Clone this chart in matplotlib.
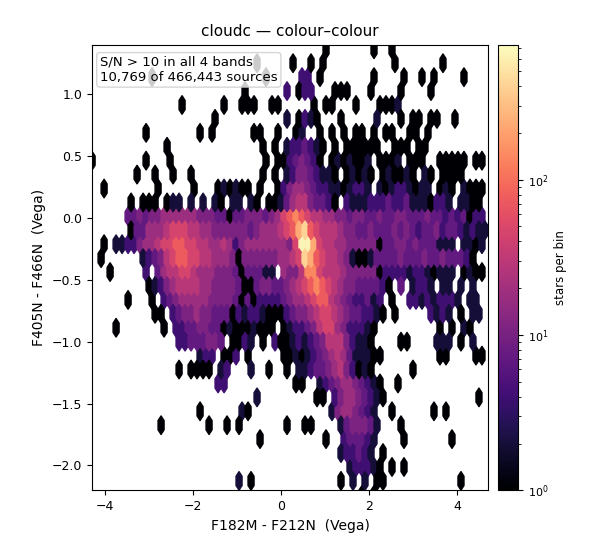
import numpy as np
import matplotlib
matplotlib.use("Agg")
import matplotlib.pyplot as plt
from matplotlib.colors import LogNorm

# hexbin lattice used by the original plot
XMIN, XMAX, YMIN, YMAX = -4.3, 4.7, -2.237, 1.363
NX, NY = 66, 16

# count per level code
level_counts = {"1": 1, "2": 2, "3": 4, "4": 7, "5": 11, "6": 18, "7": 28,
                "8": 45, "9": 75, "a": 140, "b": 230, "c": 400, "d": 650}

# hex rows, top (row 32) to bottom (row 0); one char per hex column
density_rows = [
    "..... ..... ..... ..... ..... ..... ..... ....1 ..... ..1.. 1.... ..... ..... .",
    "..... ..... ..... ..... ..... ..1.. ...1. .1.1. ..... ..... 1.... ...1. ..... .",
    "..... ..... 1.... ..... ..... ....1 ..... 33.1. ..... ..1.. ..1.. 1.1.. ..1.. .",
    "..... ..... ..... ..... ..... 1.... ..3.1 33... 111.. .1... .1... .1... ..... .",
    "..... ..... ..... 1.... ..1.. 111.. 11... ..1.1 1...1 ...11 12... ..... ..... .",
    "..... ..... ..... ..... 1.... ..... ..2.1 321.. .1... ..2.. .1.11 .11.. 1.... .",
    "..... ....1 ..... ...1. 1.... ..11. .1..1 2..1. 1.1.1 1.1.1 1..11 .1... ..... .",
    "..... ..... ..1.. ..... ..... ...1. 1.233 4321. 1.111 111.. 111.1 1.... ..... .",
    "1.... ....1 ...1. ..... ..... ....1 .1134 5431. 12121 12.11 12.11 1..11 111.1 1",
    "..... ..1.. 1..1. .1... ..... ...1. 1.235 54322 1.121 21.12 1121. 21.11 11... .",
    "..1.. ..... .1... ..1.. .1212 11.1. .1356 65433 22123 32.21 23321 22.12 1.211 1",
    "..... .1.11 1.122 .2.2. 21.22 .21.1 12467 75443 1.322 23334 33422 21332 .2211 .",
    "..... .4454 55666 66655 54414 45554 5689a 98776 65545 54454 45544 45443 43413 3",
    "..... .1446 66788 87766 55555 54566 6789b c9877 76554 45444 54543 44534 43232 2",
    "..1.2 23356 67889 98877 66763 56666 66658 ddb87 76655 55514 45545 44422 2.221 2",
    ".1... ...23 45789 98877 66651 55555 56678 cb987 76521 12444 45444 54454 4431. .",
    "...1. ....3 .4677 88766 65554 14442 2.655 7aa87 77655 55513 33323 32122 2.121 1",
    "..... ....1 23567 77766 55554 11455 44567 89a98 76554 44431 .4.23 32.22 .2.2. .",
    "..... .1... 1.345 66666 55554 14133 33456 67899 76543 3423. 1..33 23233 32.22 .",
    "..... ..... 11.34 55655 44413 23321 11345 56788 76544 3321. 1.... .3232 .1.22 .",
    "....1 ..... ..1.3 34455 44121 11211 1.123 34578 86533 321.. ..... ...1. 1.21. .",
    "..... ..... ....3 34445 54.11 32.1. 31123 23457 77532 21... .11.. ..222 .1.2. .",
    "..... ..... ..... ...23 3.113 .1... ..112 12345 67642 2211. ..... ...11 ....1 1",
    "..... ..... ....1 .1111 .23.. .2..1 ..1.2 23445 67531 21... ...1. ..... ..... .",
    "..... ..... ..... ..... .33.. ..... ....1 1..23 45665 4321. .1... ..... ..... .",
    "..... ..... ..... ..... ..... ..2.. ..... ..11. 35665 4321. ..... ..... ....1 .",
    "..... ..... ..... ...1. ..... 21... ..... ..... 25665 432.. 1.... ..1.1 ..... .",
    "..... ..... .1... ....1 ..1.1 ..... ..1.. 11... .2455 542.. .1... ..... ..... .",
    "..... ..... ..... ..... ..... ...1. ..... ....1 ..344 432.. ..1.. ..... 1.... .",
    "..... ..... ..... ..... ..... ..... ..... ..... .2334 32.1. ..... ..... ..... .",
    "..... ..... ..... ..... ..... ..... ..... ..... ...23 3321. 1.1.. ..... ..... .",
    "..... ..... ..... ..... ....2 .1... ..... ..... .1.2. 2.11. ..... ..... .1... .",
    "..... ..... ..... ..... ..... ..... ..... ..... ..... 1.1.. ..... ..... ..... .",
]

n_total = 466443
n_good = 10769

sx = (XMAX - XMIN) / NX
sy = (YMAX - YMIN) / NY
xs, ys, cs = [], [], []
n_rows = len(density_rows)
for r, row in enumerate(density_rows):
    k = n_rows - 1 - r
    cells = row.replace(" ", "")
    for i, ch in enumerate(cells):
        if ch == ".":
            continue
        xs.append(XMIN + (i + 0.5 * (k % 2)) * sx)
        ys.append(YMIN + k * sy / 2)
        cs.append(level_counts[ch])

fig = plt.figure(figsize=(5.98, 5.59), dpi=100)
ax = fig.add_axes([0.154, 0.123, 0.662, 0.797])
cax = fig.add_axes([0.833, 0.123, 0.033, 0.797])

hb = ax.hexbin(xs, ys, C=cs, reduce_C_function=np.sum, gridsize=(NX, NY),
               extent=(XMIN, XMAX, YMIN, YMAX), cmap="magma",
               norm=LogNorm(vmin=1, vmax=740))
ax.set_xlim(-4.3, 4.7)
ax.set_ylim(-2.2, 1.4)
ax.set_xticks([-4, -2, 0, 2, 4])
ax.set_yticks([-2.0, -1.5, -1.0, -0.5, 0.0, 0.5, 1.0])
ax.tick_params(labelsize=9)
ax.set_xlabel("F182M - F212N  (Vega)", fontsize=10)
ax.set_ylabel("F405N - F466N  (Vega)", fontsize=10)
ax.set_title("cloudc — colour–colour", fontsize=11)

ax.text(0.02, 0.975, f"S/N > 10 in all 4 bands\n{n_good:,} of {n_total:,} sources",
        transform=ax.transAxes, va="top", ha="left", fontsize=9.5,
        bbox=dict(boxstyle="round,pad=0.25", fc="white", ec="#cccccc", alpha=0.8))

cb = fig.colorbar(hb, cax=cax)
cb.set_label("stars per bin", fontsize=8.5)
cb.ax.tick_params(labelsize=8)

fig.savefig("out.png", dpi=100)
